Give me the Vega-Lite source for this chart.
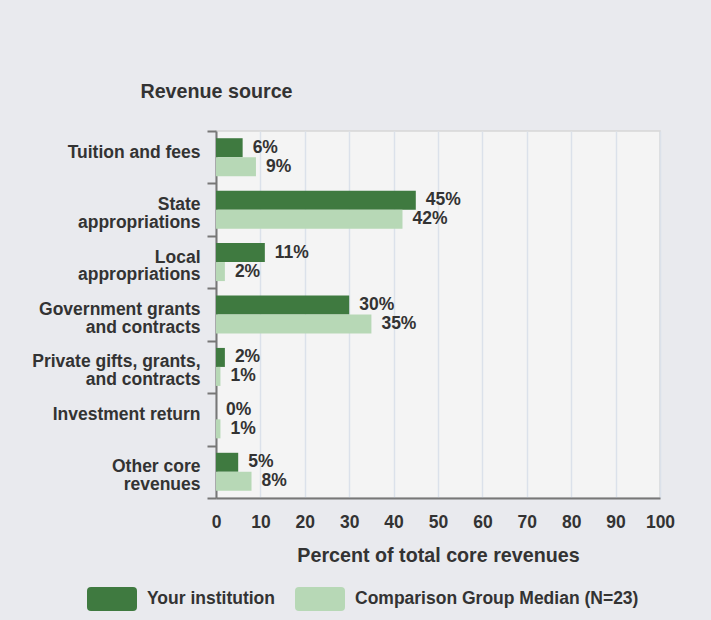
{
  "$schema": "https://vega.github.io/schema/vega-lite/v6.json",
  "autosize": {"type": "none"},
  "padding": {"left": 216, "top": 131, "right": 51, "bottom": 122},
  "width": 444,
  "height": 367,
  "background": "#e9eaee",
  "config": {
    "view": {"fill": "#f4f4f4", "stroke": "#d6d6d6", "strokeWidth": 1.5},
    "font": "Liberation Sans"
  },
  "data": {
    "values": [
      {"source": "Tuition and fees", "series": "Your institution", "value": 6},
      {"source": "Tuition and fees", "series": "Comparison Group Median (N=23)", "value": 9},
      {"source": "State|appropriations", "series": "Your institution", "value": 45},
      {"source": "State|appropriations", "series": "Comparison Group Median (N=23)", "value": 42},
      {"source": "Local|appropriations", "series": "Your institution", "value": 11},
      {"source": "Local|appropriations", "series": "Comparison Group Median (N=23)", "value": 2},
      {"source": "Government grants|and contracts", "series": "Your institution", "value": 30},
      {"source": "Government grants|and contracts", "series": "Comparison Group Median (N=23)", "value": 35},
      {"source": "Private gifts, grants,|and contracts", "series": "Your institution", "value": 2},
      {"source": "Private gifts, grants,|and contracts", "series": "Comparison Group Median (N=23)", "value": 1},
      {"source": "Investment return", "series": "Your institution", "value": 0},
      {"source": "Investment return", "series": "Comparison Group Median (N=23)", "value": 1},
      {"source": "Other core|revenues", "series": "Your institution", "value": 5},
      {"source": "Other core|revenues", "series": "Comparison Group Median (N=23)", "value": 8}
    ]
  },
  "transform": [{"calculate": "datum.value + '%'", "as": "label"}],
  "encoding": {
    "y": {
      "field": "source",
      "type": "nominal",
      "sort": null,
      "scale": {"paddingInner": 0, "paddingOuter": 0},
      "axis": {
        "title": "Revenue source",
        "titleAngle": 0,
        "titleX": 0,
        "titleY": -40,
        "titleAlign": "center",
        "titleBaseline": "middle",
        "titleFontSize": 19.7,
        "titleFontWeight": "bold",
        "titleColor": "#333333",
        "labelExpr": "split(datum.label, '|')",
        "labelFontSize": 17.5,
        "labelFontWeight": "bold",
        "labelColor": "#333333",
        "labelLineHeight": 17.5,
        "labelOffset": -5,
        "labelPadding": 7,
        "tickSize": 9,
        "tickColor": "#777777",
        "tickWidth": 2,
        "tickBand": "extent",
        "domainColor": "#777777",
        "domainWidth": 2,
        "grid": false
      }
    },
    "yOffset": {
      "field": "series",
      "type": "nominal",
      "sort": ["Your institution", "Comparison Group Median (N=23)"],
      "scale": {"paddingInner": 0, "paddingOuter": 0.38}
    },
    "x": {
      "field": "value",
      "type": "quantitative",
      "scale": {"domain": [0, 100], "nice": false},
      "axis": {
        "values": [0, 10, 20, 30, 40, 50, 60, 70, 80, 90, 100],
        "title": "Percent of total core revenues",
        "titleFontSize": 19.7,
        "titleFontWeight": "bold",
        "titleColor": "#333333",
        "titlePadding": 15,
        "labelFontSize": 17.5,
        "labelFontWeight": "bold",
        "labelColor": "#333333",
        "labelPadding": 15,
        "labelFlush": false,
        "labelOverlap": false,
        "ticks": false,
        "grid": true,
        "gridColor": "#dbe1ea",
        "gridWidth": 1.5,
        "domainColor": "#777777",
        "domainWidth": 2
      }
    }
  },
  "layer": [
    {
      "mark": {"type": "bar", "cornerRadius": 0},
      "encoding": {
        "color": {
          "field": "series",
          "type": "nominal",
          "scale": {
            "domain": ["Your institution", "Comparison Group Median (N=23)"],
            "range": ["#3f7a40", "#b7d8b6"]
          },
          "legend": {
            "title": null,
            "orient": "none",
            "direction": "horizontal",
            "legendX": -129,
            "legendY": 443,
            "symbolType": "M-0.84,-0.48 L0.84,-0.48 Q1,-0.48 1,-0.32 L1,0.32 Q1,0.48 0.84,0.48 L-0.84,0.48 Q-1,0.48 -1,0.32 L-1,-0.32 Q-1,-0.48 -0.84,-0.48 Z",
            "symbolSize": 2500,
            "symbolStrokeWidth": 0,
            "symbolOpacity": 1,
            "labelFontSize": 17.5,
            "labelFontWeight": "bold",
            "labelColor": "#333333",
            "labelOffset": 10,
            "columnPadding": 20,
            "labelLimit": 400
          }
        }
      }
    },
    {
      "mark": {"type": "text", "align": "left", "baseline": "middle", "dx": 10, "fontSize": 17.5, "fontWeight": "bold", "color": "#333333"},
      "encoding": {"text": {"field": "label"}}
    }
  ]
}
